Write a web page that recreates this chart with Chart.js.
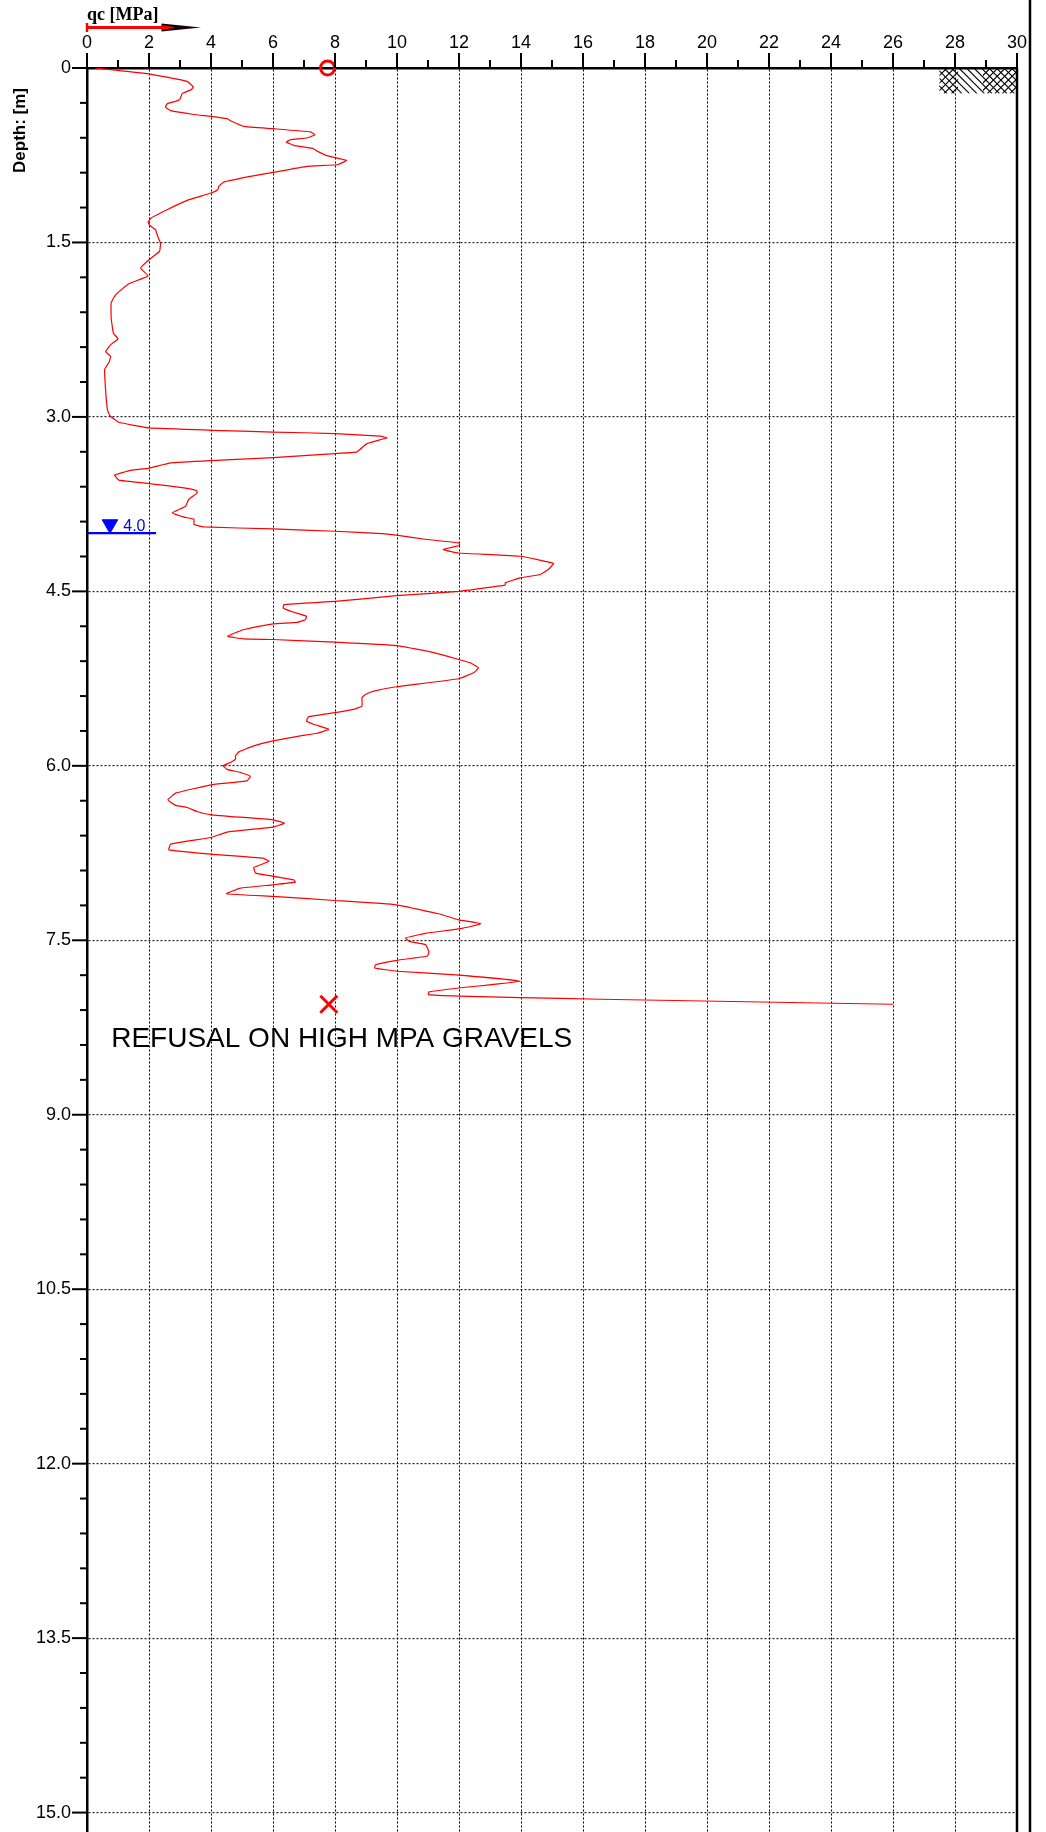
<!DOCTYPE html>
<html>
<head>
<meta charset="utf-8">
<title>CPT - qc profile</title>
<script src="https://cdn.jsdelivr.net/npm/chart.js@4.4.1/dist/chart.umd.min.js"></script>
<style>
  html, body { margin: 0; padding: 0; background: #fff; }
  #cpt { display: block; }
</style>
</head>
<body>
<canvas id="cpt" width="1046" height="1832"></canvas>
<script>
// cone resistance profile
const depthM = [
  0.00, 0.05, 0.115, 0.163, 0.186, 0.22, 0.267, 0.287, 0.307, 0.336,
  0.367, 0.40, 0.416, 0.436, 0.453, 0.502, 0.522, 0.55, 0.574, 0.602,
  0.617, 0.637, 0.665, 0.694, 0.717, 0.754, 0.794, 0.832, 0.846, 0.898,
  0.932, 0.981, 1.018, 1.047, 1.075, 1.138, 1.19, 1.247, 1.29, 1.325,
  1.354, 1.39, 1.44, 1.506, 1.577, 1.649, 1.72, 1.787, 1.855, 1.95,
  2.02, 2.15, 2.28, 2.33, 2.38, 2.44, 2.48, 2.53, 2.59, 2.77,
  2.94, 2.99, 3.046, 3.095, 3.115, 3.13, 3.143, 3.166, 3.18, 3.23,
  3.30, 3.315, 3.35, 3.375, 3.395, 3.44, 3.46, 3.50, 3.544, 3.573,
  3.61, 3.633, 3.653, 3.71, 3.768, 3.825, 3.862, 3.88, 3.925, 3.946,
  3.963, 3.983, 4.003, 4.017, 4.054, 4.083, 4.106, 4.14, 4.17, 4.198,
  4.26, 4.31, 4.355, 4.384, 4.427, 4.447, 4.50, 4.537, 4.586, 4.614,
  4.643, 4.68, 4.714, 4.743, 4.766, 4.78, 4.83, 4.85, 4.886, 4.909,
  4.914, 4.937, 4.966, 5.014, 5.037, 5.086, 5.114, 5.157, 5.20, 5.251,
  5.32, 5.357, 5.386, 5.414, 5.486, 5.514, 5.543, 5.577, 5.614, 5.643,
  5.686, 5.72, 5.743, 5.786, 5.829, 5.88, 5.914, 5.943, 5.971, 6.0,
  6.03, 6.057, 6.09, 6.13, 6.163, 6.235, 6.292, 6.34, 6.358, 6.393,
  6.421, 6.464, 6.493, 6.527, 6.57, 6.616, 6.673, 6.722, 6.759, 6.794,
  6.822, 6.874, 6.923, 6.98, 7.0, 7.023, 7.052, 7.10, 7.123, 7.158,
  7.195, 7.272, 7.324, 7.358, 7.40, 7.44, 7.48, 7.509, 7.537, 7.60,
  7.635, 7.672, 7.71, 7.738, 7.766, 7.80, 7.852, 7.91, 7.944, 7.967,
  7.98, 7.993, 8.007, 8.05
];
const qcMPa = [
  0.25, 2.0, 3.23, 3.43, 3.36, 3.07, 3.0, 2.86, 2.59, 2.53,
  2.70, 3.45, 4.0, 4.52, 4.63, 5.06, 6.0, 7.21, 7.35, 7.10,
  6.56, 6.43, 6.67, 7.31, 7.44, 7.74, 8.37, 8.07, 7.10, 6.0,
  5.27, 4.41, 4.25, 4.22, 4.0, 3.23, 2.80, 2.37, 2.07, 1.97,
  2.03, 2.21, 2.27, 2.37, 2.34, 2.0, 1.73, 1.97, 1.35, 0.92,
  0.78, 0.78, 0.85, 1.0, 0.76, 0.60, 0.76, 0.71, 0.57, 0.60,
  0.66, 0.74, 1.03, 2.0, 4.0, 6.0, 8.0, 9.46, 9.68, 9.03,
  8.71, 8.0, 6.0, 4.0, 2.70, 2.0, 1.41, 0.89, 1.03, 2.0,
  3.13, 3.53, 3.56, 3.28, 3.18, 2.75, 3.13, 3.45, 3.45, 3.77,
  6.0, 8.0, 9.52, 9.98, 10.97, 11.99, 12.02, 11.48, 11.99, 13.99,
  15.05, 14.89, 14.62, 13.97, 13.49, 13.49, 11.99, 9.98, 8.0, 6.35,
  6.33, 6.67, 7.08, 7.04, 6.78, 6.0, 5.04, 4.84, 4.54, 5.04,
  6.0, 8.0, 9.98, 10.97, 11.34, 11.99, 12.36, 12.63, 12.47, 11.99,
  9.98, 9.25, 8.98, 8.87, 8.87, 8.60, 8.0, 7.15, 7.08, 7.31,
  7.80, 7.42, 6.88, 6.0, 5.38, 4.90, 4.79, 4.79, 4.63, 4.39,
  4.52, 4.95, 5.27, 5.16, 4.0, 2.86, 2.61, 2.86, 3.23, 3.55,
  4.0, 6.0, 6.37, 6.0, 4.52, 4.0, 2.70, 2.64, 4.0, 5.68,
  5.87, 5.38, 5.44, 6.67, 6.72, 6.0, 4.95, 4.50, 6.0, 8.0,
  9.98, 11.34, 11.99, 12.71, 12.05, 10.92, 10.28, 10.39, 10.92, 11.03,
  10.98, 10.0, 9.31, 9.28, 10.0, 12.0, 13.99, 12.0, 11.03, 11.01,
  12.0, 13.99, 16.57, 26.0
];

// axis ticks
const qcTicks = [0, 1, 2, 3, 4, 5, 6, 7, 8, 9, 10, 11, 12, 13, 14, 15,
  16, 17, 18, 19, 20, 21, 22, 23, 24, 25, 26, 27, 28, 29, 30];
const depthTicks = Array.from({ length: 51 }, (_, i) => Math.round(i * 3) / 10);
const depthLabels = ["0", "1.5", "3.0", "4.5", "6.0", "7.5", "9.0",
  "10.5", "12.0", "13.5", "15.0"];

// markers
const startQc = 7.76;       // open circle at surface
const refusalQc = 7.8;      // cross at refusal
const refusalDepth = 8.05;
const waterDepth = 4.0;     // groundwater level
const waterLineQc = [0, 2.23];
const waterMarkQc = 0.74;
const soilHatchQc = [27.5, 30];
const soilHatchDepth = 0.22;

const SANS = "'Liberation Sans', Arial, sans-serif";

const curve = depthM.map((d, i) => ({ x: qcMPa[i], y: d }));

const decorations = {
    id: "decorations",
    afterDraw(chart) {
        const { ctx, chartArea: a, scales: { x, y } } = chart;
        ctx.save();

        // soil symbol top right
        const hx0 = x.getPixelForValue(soilHatchQc[0]);
        const hx1 = x.getPixelForValue(soilHatchQc[1]);
        const hy0 = y.getPixelForValue(0);
        const hy1 = y.getPixelForValue(soilHatchDepth);
        const hh = hy1 - hy0;
        ctx.lineWidth = 1.1;
        ctx.strokeStyle = "#000";
        ctx.save();
        ctx.beginPath();
        ctx.rect(hx0, hy0, hx1 - hx0, hh);
        ctx.clip();
        for (let s = hx0 - hh; s < hx1 + hh; s += 7.5) {
            ctx.beginPath();
            ctx.moveTo(s, hy0);
            ctx.lineTo(s + hh, hy1);
            ctx.stroke();
        }
        ctx.restore();
        [[hx0, x.getPixelForValue(28.1)], [x.getPixelForValue(28.9), hx1]].forEach(([l, r]) => {
            ctx.save();
            ctx.beginPath();
            ctx.rect(l, hy0, r - l, hh);
            ctx.clip();
            for (let s = l - hh; s < r + hh; s += 7.5) {
                ctx.beginPath();
                ctx.moveTo(s + hh, hy0);
                ctx.lineTo(s, hy1);
                ctx.stroke();
            }
            ctx.restore();
        });

        // tick marks
        ctx.strokeStyle = "#000";
        ctx.lineWidth = 2;
        qcTicks.forEach(v => {
            const px = x.getPixelForValue(v);
            const len = v % 2 === 0 ? 15 : 8;
            ctx.beginPath();
            ctx.moveTo(px, a.top);
            ctx.lineTo(px, a.top - len);
            ctx.stroke();
        });
        depthTicks.forEach((v, i) => {
            const py = y.getPixelForValue(v);
            const len = i % 5 === 0 ? 15 : 7;
            ctx.beginPath();
            ctx.moveTo(a.left - len, py);
            ctx.lineTo(a.left, py);
            ctx.stroke();
        });

        // right border and outer frame
        ctx.lineWidth = 2.5;
        const rx = x.getPixelForValue(30);
        ctx.beginPath();
        ctx.moveTo(rx, a.top);
        ctx.lineTo(rx, a.bottom);
        ctx.stroke();
        ctx.beginPath();
        ctx.moveTo(1030, 0);
        ctx.lineTo(1030, chart.height);
        ctx.stroke();

        // qc legend with arrow
        ctx.fillStyle = "#000";
        ctx.font = "bold 18px 'Liberation Serif', 'Times New Roman', serif";
        ctx.textAlign = "left";
        ctx.textBaseline = "alphabetic";
        ctx.fillText("qc [MPa]", 87, 20);
        ctx.strokeStyle = "#ff0000";
        ctx.lineWidth = 3;
        ctx.beginPath();
        ctx.moveTo(87, 27.5);
        ctx.lineTo(166, 27.5);
        ctx.stroke();
        ctx.lineWidth = 2.5;
        ctx.beginPath();
        ctx.moveTo(87, 23);
        ctx.lineTo(87, 32);
        ctx.stroke();
        ctx.beginPath();
        ctx.moveTo(161.5, 23.5);
        ctx.lineTo(201, 27.5);
        ctx.lineTo(161.5, 31.5);
        ctx.closePath();
        ctx.fillStyle = "#1a0000";
        ctx.fill();
        ctx.fillStyle = "#ff0000";
        ctx.beginPath();
        ctx.moveTo(161.5, 25);
        ctx.lineTo(176, 27.5);
        ctx.lineTo(161.5, 30);
        ctx.closePath();
        ctx.fill();

        // depth axis title
        ctx.save();
        ctx.translate(20, 88);
        ctx.rotate(-Math.PI / 2);
        ctx.fillStyle = "#000";
        ctx.font = "bold 17px " + SANS;
        ctx.textAlign = "right";
        ctx.textBaseline = "middle";
        ctx.fillText("Depth: [m]", 0, 0);
        ctx.restore();

        // water level label
        ctx.fillStyle = "#0000ff";
        ctx.font = "16px " + SANS;
        ctx.textAlign = "left";
        ctx.textBaseline = "alphabetic";
        ctx.fillText("4.0", x.getPixelForValue(1.17), y.getPixelForValue(3.977));

        // refusal note
        ctx.fillStyle = "#000";
        ctx.font = "28px " + SANS;
        ctx.fillText("REFUSAL ON HIGH MPA GRAVELS", x.getPixelForValue(0.78), y.getPixelForValue(8.415));

        ctx.restore();
    }
};

new Chart(document.getElementById("cpt"), {
    type: "scatter",
    data: {
        datasets: [
            {
                data: curve,
                showLine: true,
                borderColor: "#ff0000",
                borderWidth: 1.2,
                pointRadius: 0,
                tension: 0.1
            },
            {
                data: waterLineQc.map(v => ({ x: v, y: waterDepth })),
                showLine: true,
                borderColor: "#0000ff",
                borderWidth: 2.2,
                pointRadius: 0
            },
            {
                data: [{ x: waterMarkQc, y: waterDepth - 0.077 }],
                pointStyle: "triangle",
                rotation: 180,
                pointRadius: 9,
                backgroundColor: "#0000ff",
                borderColor: "#0000ff",
                borderWidth: 1
            },
            {
                data: [{ x: startQc, y: 0 }],
                pointStyle: "circle",
                pointRadius: 7,
                borderWidth: 3,
                borderColor: "#ff0000",
                backgroundColor: "rgba(0,0,0,0)",
                clip: false
            },
            {
                data: [{ x: refusalQc, y: refusalDepth }],
                pointStyle: "crossRot",
                pointRadius: 12,
                borderWidth: 3,
                borderColor: "#ff0000"
            }
        ]
    },
    options: {
        responsive: false,
        animation: false,
        events: [],
        layout: { autoPadding: false, padding: { left: 0, right: 29, top: 0, bottom: 0 } },
        plugins: { legend: { display: false }, tooltip: { enabled: false } },
        scales: {
            x: {
                type: "linear",
                position: "top",
                min: 0,
                max: 30,
                afterFit: s => { s.height = 68; s.paddingLeft = 0; s.paddingRight = 0; },
                afterBuildTicks: s => { s.ticks = qcTicks.map(v => ({ value: v })); },
                ticks: {
                    autoSkip: false,
                    maxRotation: 0,
                    padding: 14,
                    color: "#000",
                    font: { family: SANS, size: 18 },
                    callback: v => (v % 2 === 0 ? String(v) : "")
                },
                grid: {
                    drawTicks: false,
                    lineWidth: 1,
                    color: c => (c.tick && c.tick.value % 2 === 0 && c.tick.value > 0 && c.tick.value < 30)
                        ? "#000" : "rgba(0,0,0,0)"
                },
                border: { display: true, color: "#000", width: 2.5, dash: [2, 2] }
            },
            y: {
                type: "linear",
                reverse: true,
                min: 0,
                max: 15.167,
                afterFit: s => { s.width = 87; s.paddingTop = 0; s.paddingBottom = 0; },
                afterBuildTicks: s => { s.ticks = depthTicks.map(v => ({ value: v })); },
                ticks: {
                    autoSkip: false,
                    padding: 16,
                    color: "#000",
                    font: { family: SANS, size: 18 },
                    callback: (v, i) => (i % 5 === 0 ? depthLabels[i / 5] : "")
                },
                grid: {
                    drawTicks: false,
                    lineWidth: 1.2,
                    color: c => (c.index % 5 === 0 && c.index > 0) ? "#222" : "rgba(0,0,0,0)"
                },
                border: { display: true, color: "#000", width: 2.5, dash: [2, 2] }
            }
        }
    },
    plugins: [decorations]
});
</script>
</body>
</html>
